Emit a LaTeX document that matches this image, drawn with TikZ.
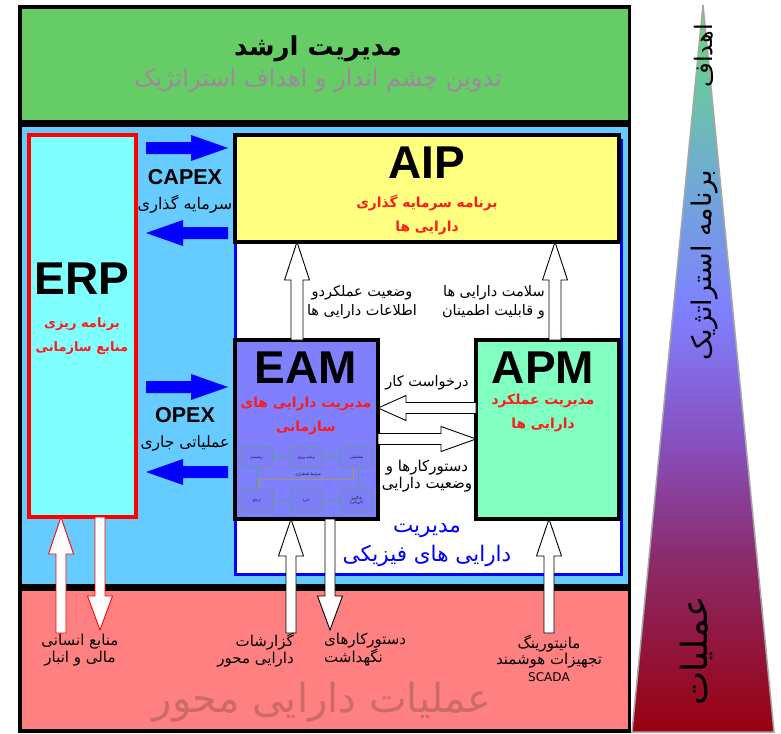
\documentclass[tikz,border=0pt]{standalone}
\usepackage{fontspec}
\setmainfont{Liberation Sans}
\newfontfamily\fa[Script=Arabic]{DejaVu Sans}
\TeXXeTstate=1
\usetikzlibrary{calc,fit,arrows.meta}
\newcommand\RL[1]{{\fa\beginR#1\endR}}
\newcommand\fs[2]{\fontsize{#1}{#2}\selectfont}
\definecolor{topgreen}{HTML}{66CC66}
\definecolor{midblue}{HTML}{66CCFF}
\definecolor{botred}{HTML}{FF8080}
\definecolor{erpfill}{HTML}{80FFFF}
\definecolor{aipfill}{HTML}{FFFF80}
\definecolor{eamfill}{HTML}{8080FF}
\definecolor{apmfill}{HTML}{80FFC0}
\definecolor{subgray}{HTML}{9C8A9C}
\definecolor{opred}{HTML}{CC6A6A}
\definecolor{redtxt}{HTML}{FF1A1A}
\definecolor{minigreen}{HTML}{5E9E84}
\definecolor{minifill}{HTML}{7E7EF6}
\definecolor{miniolive}{HTML}{A89A50}
\definecolor{pa}{HTML}{99000F}
\definecolor{pb}{HTML}{8A2E70}
\definecolor{pc}{HTML}{8850C0}
\definecolor{pd}{HTML}{7F80FF}
\definecolor{pe}{HTML}{70A8D8}
\definecolor{pf}{HTML}{66DD77}
\pgfdeclareverticalshading{pyr}{100bp}{color(0bp)=(pa); color(25bp)=(pa); color(37.5bp)=(pb); color(45bp)=(pc); color(54bp)=(pd); color(62.5bp)=(pe); color(75bp)=(pf); color(100bp)=(pf)}
% thick arrow from #2 to #3: shaft half width #4, head half width #5, head length #6
\newcommand\fatarrow[6][]{%
  \path (#3) coordinate (fatT) ($(#3)!#6!(#2)$) coordinate (fatB);
  \path[#1] ($(#2)!#4!90:(#3)$) -- ($(fatB)!#4!90:(fatT)$) -- ($(fatB)!#5!90:(fatT)$) -- (fatT) -- ($(fatB)!#5!-90:(fatT)$) -- ($(fatB)!#4!-90:(fatT)$) -- ($(#2)!#4!-90:(#3)$) -- cycle;}
\begin{document}
\begin{tikzpicture}[x=1pt,y=-1pt,
  box/.style={inner sep=0pt,outer sep=0pt},
  txt/.style={inner sep=0pt,align=center},
  bigl/.style={txt,font=\fs{46}{50}\bfseries},
  capx/.style={txt,font=\fs{21.5}{23}\bfseries},
  redl/.style={txt,text=redtxt,font=\fa\bfseries\fs{13.8}{24.5}},
  lbl/.style={txt,font=\fa\fs{14.5}{19}},
  bluel/.style={txt,text=blue,font=\fa\fs{21.5}{24}},
  botl/.style={txt,font=\fa\fs{15}{16.5}},
  hollow/.style={fill=white,draw=black,line width=0.9pt},
  hollowred/.style={fill=white,draw=red,line width=0.9pt},
  bluearrow/.style={fill=blue,draw=none},
  mini/.style={draw=minigreen,fill=minifill,rounded corners=3pt,line width=0.6pt,minimum width=33pt,inner sep=0pt,font=\fa\fs{3.5}{4}},
  miniarrow/.style={draw=minigreen,line width=0.6pt,-{Stealth[length=2pt,width=2pt]}}
]
\useasboundingbox (0,0) rectangle (781,733);
\fill[white] (0,0) rectangle (781,733);

% pyramid
\shadedraw[shading=pyr,draw=gray!70,line width=1.5pt] (703,5) -- (774,732) -- (632,732) -- cycle;
\node[txt,rotate=90,font=\fa\fs{24}{26}] (tgoal) at (704,56) {\RL{اهداف}};
\node[txt,rotate=90,font=\fa\fs{27}{29}] (tplan) at (705,265) {\RL{برنامه استراتژیک}};
\node[txt,rotate=90,font=\fa\fs{36}{38}] (toper) at (696,651) {\RL{عملیات}};

% frame and bands
\fill[black] (18,5) rectangle (631,733);
\node[box,fill=topgreen,fit={(22,9) (628,120)}] (topband) {};
\node[box,fill=midblue,fit={(22,127) (628,584)}] (midband) {};
\node[box,fill=botred,fit={(22,591) (628,729)}] (botband) {};

\node[txt,font=\fa\bfseries\fs{26}{28}] (ttl) at (318,49) {\RL{مدیریت ارشد}};
\node[txt,text=subgray,font=\fa\fs{24}{26}] (sub) at (318,80) {\RL{تدوین چشم انداز و اهداف استراتژیک}};

% ERP
\node[box,draw=red,line width=4pt,fill=erpfill,fit={(29,135) (136,517)}] (erp) {};
\node[bigl] (erpT) at (82,279) {ERP};
\node[redl,font=\fa\bfseries\fs{13}{24.5}] (erpS) at (82,336) {\RL{برنامه ریزی}\\\RL{منابع سازمانی}};

% physical asset management region
\node[box,draw=blue,line width=3pt,fill=white,fit={(235,140) (621,574)}] (phys) {};
\node[box,draw=black,line width=3.5pt,fill=aipfill,fit={(235,135) (619,242)}] (aip) {};
\node[box,draw=black,line width=3.5pt,fill=eamfill,fit={(235,340) (378,519)}] (eam) {};
\node[box,draw=black,line width=3.5pt,fill=apmfill,fit={(476,340) (619,519)}] (apm) {};

\node[bigl] (aipT) at (427,163) {AIP};
\node[redl] (aipS) at (427,215) {\RL{برنامه سرمایه گذاری}\\\RL{دارایی ها}};
\node[bigl] (eamT) at (306,368) {EAM};
\node[redl] (eamS) at (306,416) {\RL{مدیریت دارایی های}\\\RL{سازمانی}};
\node[bigl] (apmT) at (543,368) {APM};
\node[redl] (apmS) at (543,413) {\RL{مدیریت عملکرد}\\\RL{دارایی ها}};

\node[bluel] (physA) at (427,531) {\RL{مدیریت}};
\node[bluel] (physB) at (427,556) {\RL{دارایی های فیزیکی}};

% CAPEX / OPEX
\coordinate (c1s) at (146,148); \coordinate (c1t) at (228,148);
\coordinate (c2s) at (228,233); \coordinate (c2t) at (146,233);
\coordinate (o1s) at (146,387); \coordinate (o1t) at (228,387);
\coordinate (o2s) at (228,472); \coordinate (o2t) at (146,472);
\fatarrow[bluearrow]{c1s}{c1t}{6pt}{13pt}{37pt}
\fatarrow[bluearrow]{c2s}{c2t}{6pt}{13pt}{37pt}
\fatarrow[bluearrow]{o1s}{o1t}{6pt}{13pt}{37pt}
\fatarrow[bluearrow]{o2s}{o2t}{6pt}{13pt}{37pt}
\node[capx] (capex) at (185,177) {CAPEX};
\node[lbl,font=\fa\fs{16}{18}] (capexF) at (185,204) {\RL{سرمایه گذاری}};
\node[capx] (opex) at (185,415) {OPEX};
\node[lbl,font=\fa\fs{15.5}{18}] (opexF) at (185,443) {\RL{عملیاتی جاری}};

% arrows EAM/APM -> AIP
\coordinate (u1s) at ([xshift=-9.5pt]eam.north);
\coordinate (u1t) at (u1s |- aip.south);
\coordinate (u2s) at ([xshift=7.5pt]apm.north);
\coordinate (u2t) at (u2s |- aip.south);
\fatarrow[hollow]{u1s}{u1t}{6pt}{12.5pt}{38pt}
\fatarrow[hollow]{u2s}{u2t}{6pt}{12.5pt}{38pt}
\node[lbl] (l1) at (362,302) {\RL{وضعیت عملکردو}\\\RL{اطلاعات دارایی ها}};
\node[lbl,align=right,anchor=east] (l2) at (545,302) {\RL{سلامت دارایی ها}\\\RL{و قابلیت اطمینان}};

% arrows between EAM and APM
\coordinate (h1s) at (apm.west |- 0,408); \coordinate (h1t) at (eam.east |- 0,408);
\coordinate (h2s) at (eam.east |- 0,439); \coordinate (h2t) at (apm.west |- 0,439);
\fatarrow[hollow]{h1s}{h1t}{5.5pt}{12.5pt}{28pt}
\fatarrow[hollow]{h2s}{h2t}{5.5pt}{12.5pt}{35pt}
\node[lbl] (l3) at (427,383) {\RL{درخواست کار}};
\node[lbl,font=\fa\fs{15}{17}] (l4) at (427,476) {\RL{دستورکارها و}\\\RL{وضعیت دارایی}};

% mini process diagram inside EAM
\node[mini,minimum height=21pt] (s1) at (256.5,457.5) {\RL{زمانبندی}};
\node[mini,minimum height=21pt] (s2) at (306.5,457.5) {\RL{برنامه ریزی}};
\node[mini,minimum height=21pt] (s3) at (356.5,457.5) {\RL{شناسایی}};
\node[mini,minimum height=23pt] (s4) at (256.5,500.5) {\RL{ارجاع}};
\node[mini,minimum height=23pt] (s5) at (306.5,500.5) {\RL{اجرا}};
\node[mini,minimum height=23pt,align=center] (s6) at (356.5,500.5) {\RL{یادگیری}\\\RL{(ارزیابی)}};
\draw[miniarrow] (s3) -- (s2);
\draw[miniarrow] (s2) -- (s1);
\draw[miniarrow] (s1) -- (s4);
\draw[miniarrow] (s4) -- (s5);
\draw[miniarrow] (s5) -- (s6);
\draw[miniarrow] ([xshift=2pt]s6.north) -- ([xshift=2pt]s3.south);
\draw[draw=miniolive,line width=0.6pt,-{Stealth[length=2pt,width=2pt]}] ([xshift=-3pt]s3.south) -- ++(0,11) -| ([xshift=3pt]s4.north);
\node[txt,font=\fa\fs{3.5}{4}] (emerg) at (308,475) {\RL{شرایط اضطراری}};

% arrows to/from operations band
\coordinate (e1s) at (61,633); \coordinate (e1t) at (61,0 |- erp.south);
\coordinate (e2s) at (100,0 |- erp.south); \coordinate (e2t) at (100,630);
\fatarrow[hollowred]{e1s}{e1t}{5pt}{12.5pt}{37pt}
\fatarrow[hollowred]{e2s}{e2t}{5pt}{12.5pt}{34pt}
\coordinate (m1s) at (291,633); \coordinate (m1t) at (291,0 |- eam.south);
\coordinate (m2s) at (330,0 |- eam.south); \coordinate (m2t) at (330,630);
\fatarrow[hollow]{m1s}{m1t}{5pt}{12.5pt}{37pt}
\fatarrow[hollow]{m2s}{m2t}{5pt}{12.5pt}{34pt}
\coordinate (p1s) at (549,633); \coordinate (p1t) at (549,0 |- apm.south);
\fatarrow[hollow]{p1s}{p1t}{5pt}{12.5pt}{37pt}

\node[botl] (b1) at (80,650) {\RL{منابع انسانی}\\\RL{مالی و انبار}};
\node[botl,align=right,anchor=east] (b2) at (294,650) {\RL{گزارشات}\\\RL{دارایی محور}};
\node[botl,align=left,anchor=west] (b3) at (324,650) {\RL{دستورکارهای}\\\RL{نگهداشت}};
\node[botl] (b4) at (549,658) {\RL{مانیتورینگ}\\\RL{تجهیزات هوشمند}\\{\fs{12}{16.5}SCADA}};
\node[txt,text=opred,font=\fa\fs{40}{42}] (ops) at (322,702) {\RL{عملیات دارایی محور}};
\end{tikzpicture}
\end{document}
